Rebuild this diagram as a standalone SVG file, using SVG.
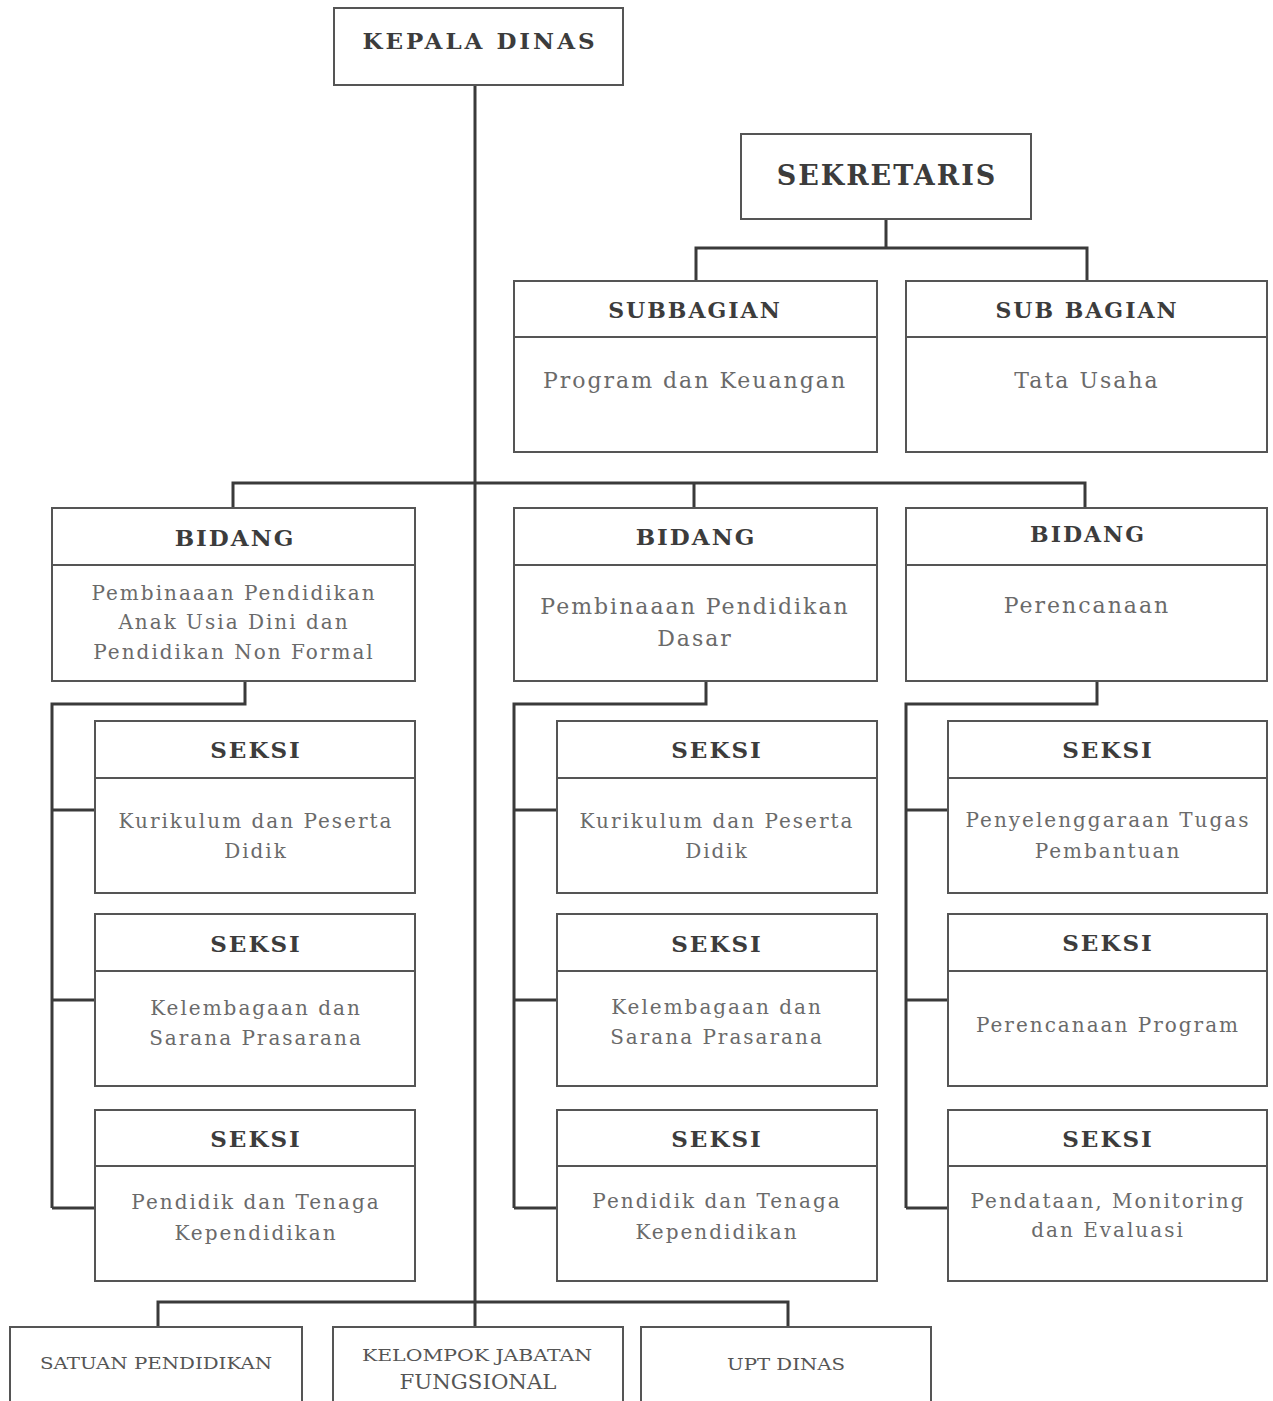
<svg xmlns="http://www.w3.org/2000/svg" width="1273" height="1401" viewBox="0 0 1273 1401">
<style>
.box{fill:#fff;stroke:#555;stroke-width:2}
.div{stroke:#555;stroke-width:2}
.con{stroke:#3a3a3a;stroke-width:3;fill:none}
.t{font-family:"DejaVu Serif","Liberation Serif",serif;font-weight:bold;fill:#3c3c3c;text-anchor:middle;letter-spacing:2px}
.b{font-family:"DejaVu Serif","Liberation Serif",serif;fill:#6a6a6a;text-anchor:middle;letter-spacing:2px}
.s{font-family:"DejaVu Serif","Liberation Serif",serif;fill:#555;text-anchor:middle}
</style>
<rect width="1273" height="1401" fill="#fff"/>
<g id="connectors">
<line class="con" x1="475" y1="85" x2="475" y2="1327"/>
<path class="con" d="M886 219V248M696 281V248H1087V281"/>
<path class="con" d="M233 508V483H1085V508M694 483V508"/>
<path class="con" d="M245 681V704H52V1208M52 810H95M52 1000H95M52 1208H95"/>
<path class="con" d="M706 681V704H514V1208M514 810H557M514 1000H557M514 1208H557"/>
<path class="con" d="M1097 681V704H906V1208M906 810H948M906 1000H948M906 1208H948"/>
<path class="con" d="M158 1327V1302H788V1327"/>
</g>
<g id="kepala-dinas">
<rect class="box" x="334" y="8" width="289" height="77"/>
<text class="t" x="480" y="49" font-size="23" style="letter-spacing:3px">KEPALA DINAS</text>
</g>
<g id="sekretaris">
<rect class="box" x="741" y="134" width="290" height="85"/>
<text class="t" x="887" y="185" font-size="27">SEKRETARIS</text>
</g>
<g id="subbagian-program">
<rect class="box" x="514" y="281" width="363" height="171"/>
<line class="div" x1="514" y1="337" x2="877" y2="337"/>
<text class="t" x="695" y="318" font-size="22">SUBBAGIAN</text>
<text class="b" x="695" y="388" font-size="22">Program dan Keuangan</text>
</g>
<g id="subbagian-tatausaha">
<rect class="box" x="906" y="281" width="361" height="171"/>
<line class="div" x1="906" y1="337" x2="1267" y2="337"/>
<text class="t" x="1087" y="318" font-size="22">SUB BAGIAN</text>
<text class="b" x="1087" y="388" font-size="22">Tata Usaha</text>
</g>
<g id="bidang-paud">
<rect class="box" x="52" y="508" width="363" height="173"/>
<line class="div" x1="52" y1="565" x2="415" y2="565"/>
<text class="t" x="235" y="546" font-size="23">BIDANG</text>
<text class="b" x="234" y="600" font-size="20">Pembinaaan Pendidikan</text>
<text class="b" x="234" y="629" font-size="20">Anak Usia Dini dan</text>
<text class="b" x="234" y="659" font-size="20">Pendidikan Non Formal</text>
</g>
<g id="bidang-dasar">
<rect class="box" x="514" y="508" width="363" height="173"/>
<line class="div" x1="514" y1="565" x2="877" y2="565"/>
<text class="t" x="696" y="545" font-size="23">BIDANG</text>
<text class="b" x="695" y="614" font-size="22">Pembinaaan Pendidikan</text>
<text class="b" x="695" y="646" font-size="22">Dasar</text>
</g>
<g id="bidang-perencanaan">
<rect class="box" x="906" y="508" width="361" height="173"/>
<line class="div" x1="906" y1="565" x2="1267" y2="565"/>
<text class="t" x="1088" y="542" font-size="22">BIDANG</text>
<text class="b" x="1087" y="613" font-size="22">Perencanaan</text>
</g>
<g id="seksi-1-1">
<rect class="box" x="95" y="721" width="320" height="172"/>
<line class="div" x1="95" y1="778" x2="415" y2="778"/>
<text class="t" x="256" y="758" font-size="23">SEKSI</text>
<text class="b" x="256" y="828" font-size="20">Kurikulum dan Peserta</text>
<text class="b" x="256" y="858" font-size="20">Didik</text>
</g>
<g id="seksi-1-2">
<rect class="box" x="95" y="914" width="320" height="172"/>
<line class="div" x1="95" y1="971" x2="415" y2="971"/>
<text class="t" x="256" y="952" font-size="23">SEKSI</text>
<text class="b" x="256" y="1015" font-size="20">Kelembagaan dan</text>
<text class="b" x="256" y="1045" font-size="20">Sarana Prasarana</text>
</g>
<g id="seksi-1-3">
<rect class="box" x="95" y="1110" width="320" height="171"/>
<line class="div" x1="95" y1="1166" x2="415" y2="1166"/>
<text class="t" x="256" y="1147" font-size="23">SEKSI</text>
<text class="b" x="256" y="1209" font-size="20">Pendidik dan Tenaga</text>
<text class="b" x="256" y="1240" font-size="20">Kependidikan</text>
</g>
<g id="seksi-2-1">
<rect class="box" x="557" y="721" width="320" height="172"/>
<line class="div" x1="557" y1="778" x2="877" y2="778"/>
<text class="t" x="717" y="758" font-size="23">SEKSI</text>
<text class="b" x="717" y="828" font-size="20">Kurikulum dan Peserta</text>
<text class="b" x="717" y="858" font-size="20">Didik</text>
</g>
<g id="seksi-2-2">
<rect class="box" x="557" y="914" width="320" height="172"/>
<line class="div" x1="557" y1="971" x2="877" y2="971"/>
<text class="t" x="717" y="952" font-size="23">SEKSI</text>
<text class="b" x="717" y="1014" font-size="20">Kelembagaan dan</text>
<text class="b" x="717" y="1044" font-size="20">Sarana Prasarana</text>
</g>
<g id="seksi-2-3">
<rect class="box" x="557" y="1110" width="320" height="171"/>
<line class="div" x1="557" y1="1166" x2="877" y2="1166"/>
<text class="t" x="717" y="1147" font-size="23">SEKSI</text>
<text class="b" x="717" y="1208" font-size="20">Pendidik dan Tenaga</text>
<text class="b" x="717" y="1239" font-size="20">Kependidikan</text>
</g>
<g id="seksi-3-1">
<rect class="box" x="948" y="721" width="319" height="172"/>
<line class="div" x1="948" y1="778" x2="1267" y2="778"/>
<text class="t" x="1108" y="758" font-size="23">SEKSI</text>
<text class="b" x="1108" y="827" font-size="20">Penyelenggaraan Tugas</text>
<text class="b" x="1108" y="858" font-size="20">Pembantuan</text>
</g>
<g id="seksi-3-2">
<rect class="box" x="948" y="914" width="319" height="172"/>
<line class="div" x1="948" y1="971" x2="1267" y2="971"/>
<text class="t" x="1108" y="951" font-size="23">SEKSI</text>
<text class="b" x="1108" y="1032" font-size="20">Perencanaan Program</text>
</g>
<g id="seksi-3-3">
<rect class="box" x="948" y="1110" width="319" height="171"/>
<line class="div" x1="948" y1="1166" x2="1267" y2="1166"/>
<text class="t" x="1108" y="1147" font-size="23">SEKSI</text>
<text class="b" x="1108" y="1208" font-size="20">Pendataan, Monitoring</text>
<text class="b" x="1108" y="1237" font-size="20">dan Evaluasi</text>
</g>
<g id="satuan-pendidikan">
<rect class="box" x="10" y="1327" width="292" height="90"/>
<text class="s" x="156" y="1369" font-size="17" textLength="232" lengthAdjust="spacingAndGlyphs">SATUAN PENDIDIKAN</text>
</g>
<g id="kelompok-jabatan">
<rect class="box" x="333" y="1327" width="290" height="90"/>
<text class="s" x="477" y="1361" font-size="16" textLength="230" lengthAdjust="spacingAndGlyphs">KELOMPOK JABATAN</text>
<text class="s" x="478" y="1389" font-size="20" textLength="157" lengthAdjust="spacingAndGlyphs">FUNGSIONAL</text>
</g>
<g id="upt-dinas">
<rect class="box" x="641" y="1327" width="290" height="90"/>
<text class="s" x="786" y="1370" font-size="17" textLength="118" lengthAdjust="spacingAndGlyphs">UPT DINAS</text>
</g>
</svg>
